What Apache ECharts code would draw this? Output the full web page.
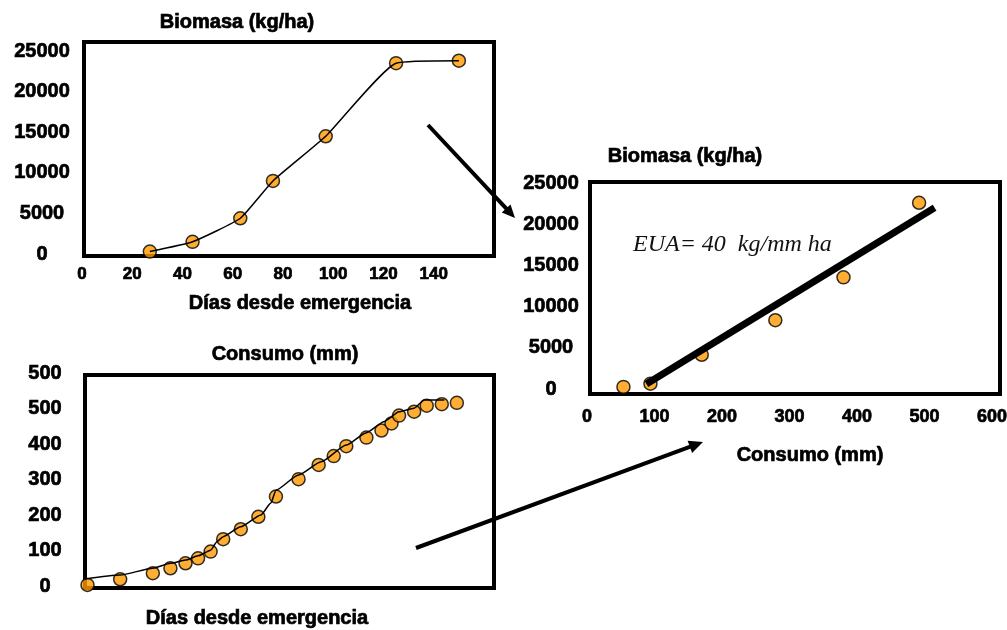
<!DOCTYPE html>
<html>
<head>
<meta charset="utf-8">
<title>Biomasa y consumo de agua</title>
<script src="https://cdn.jsdelivr.net/npm/echarts@6/dist/echarts.min.js"></script>
<style>
  html, body { margin: 0; padding: 0; background: #ffffff; }
  #chart { width: 1007px; height: 630px; }
</style>
</head>
<body>
<div id="chart"></div>
<script>
// Biomasa acumulada vs días desde emergencia
const biomasaDias = [27, 44, 63, 76, 97, 125, 150];
const biomasaKgHa = [300, 1500, 4400, 9000, 14500, 23500, 23800];

// Consumo de agua acumulado vs días desde emergencia (observado)
const consumoDias = [1, 14, 27, 34, 40, 45, 50, 55, 62, 69, 76, 85, 93, 99, 104, 112, 118, 122, 125, 131, 136, 142, 148];
const consumoMm = [3, 19, 36, 50, 64, 78, 97, 132, 160, 195, 252, 301, 341, 366, 394, 418, 438, 458, 480, 491, 508, 512, 516];

// Curva ajustada del consumo
const ajusteDias = [0, 14, 27, 34, 40, 45, 50, 52.5, 55, 62, 70, 74, 76, 85, 94, 104, 112, 119, 125, 131, 135, 143];
const ajusteMm = [20, 31, 50, 64, 73, 85, 101, 125, 139, 167, 200, 234, 270, 313, 350, 397, 432, 463, 491, 501, 524, 524];

// Biomasa vs consumo y recta de eficiencia en el uso del agua
const euaConsumo = [54, 94, 170, 279, 380, 492];
const euaBiomasa = [250, 650, 4150, 8350, 13550, 22600];
const rectaConsumo = [88, 515];
const rectaBiomasa = [600, 22000];

// Etiquetas de los ejes
const diasTicks = ['0', '20', '40', '60', '80', '100', '120', '140'];
const biomasaTicks = ['0', '5000', '10000', '15000', '20000', '25000'];
const consumoTicks = ['0', '100', '200', '300', '400', '500', '500'];
const euaTicks = ['0', '100', '200', '300', '400', '500', '600'];

const pares = (xs, ys) => xs.map((x, i) => [x, ys[i]]);

const FONT = 'Liberation Sans, Arial, sans-serif';
const ORANGE = '#FF9900';

const tickLabel = (size, margin, extra) => Object.assign({
  fontSize: size, fontWeight: 'bold', fontFamily: FONT, color: '#000', margin: margin,
  textBorderColor: '#000', textBorderWidth: 0.7
}, extra || {});

const hiddenAxis = (gi) => ({ gridIndex: gi, type: 'value', show: false, min: 0, max: 1 });

const frameGrid = (left, top, width, height) => ({
  left, top, width, height, show: true, borderColor: '#000', borderWidth: 4,
  backgroundColor: 'transparent', containLabel: false, outerBoundsMode: 'none'
});
const dataGrid = (left, top, width, height) => ({
  left, top, width, height, show: false, containLabel: false, outerBoundsMode: 'none'
});

const texto = (t, x, y, size, extra) => ({
  type: 'text', x: x, y: y, z: 10,
  style: Object.assign({
    text: t, fill: '#000', fontSize: size, fontWeight: 'bold', fontFamily: FONT,
    stroke: '#000', lineWidth: 0.7,
    align: 'center', verticalAlign: 'middle', textAlign: 'center', textVerticalAlign: 'middle'
  }, extra || {})
});

function flecha(x1, y1, x2, y2, len, half, w) {
  const dx = x2 - x1, dy = y2 - y1, d = Math.hypot(dx, dy);
  const ux = dx / d, uy = dy / d;
  const bx = x2 - ux * len, by = y2 - uy * len;
  return [
    { type: 'line', z: 20, shape: { x1: x1, y1: y1, x2: bx + ux * 2, y2: by + uy * 2 },
      style: { stroke: '#000', lineWidth: w, lineCap: 'butt' } },
    { type: 'polygon', z: 20,
      shape: { points: [[x2, y2], [bx - uy * half, by + ux * half], [bx + uy * half, by - ux * half]] },
      style: { fill: '#000' } }
  ];
}

const marker = { color: ORANGE, borderColor: '#000', borderWidth: 1.5 };

const option = {
  animation: false,
  backgroundColor: '#ffffff',
  grid: [
    frameGrid(84, 42, 410, 214),
    dataGrid(82, 51, 402, 203),
    frameGrid(85, 375, 409, 213),
    dataGrid(85, 373, 402, 213),
    frameGrid(590, 182, 410, 212),
    dataGrid(587, 183, 405, 206)
  ],
  xAxis: [
    hiddenAxis(0),
    {
      gridIndex: 1, type: 'value', min: 0, max: 160, interval: 20,
      axisLine: { show: false }, axisTick: { show: false }, splitLine: { show: false },
      axisLabel: tickLabel(17, 12, {
        formatter: (v) => diasTicks[Math.round(v / 20)] || ''
      })
    },
    hiddenAxis(2),
    { gridIndex: 3, type: 'value', min: 0, max: 160, show: false },
    hiddenAxis(4),
    {
      gridIndex: 5, type: 'value', min: 0, max: 600, interval: 100,
      axisLine: { show: false }, axisTick: { show: false }, splitLine: { show: false },
      axisLabel: tickLabel(18, 19, {
        formatter: (v) => euaTicks[Math.round(v / 100)] || ''
      })
    }
  ],
  yAxis: [
    hiddenAxis(0),
    {
      gridIndex: 1, type: 'value', min: 0, max: 25000, interval: 5000,
      axisLine: { show: false }, axisTick: { show: false }, splitLine: { show: false },
      axisLabel: tickLabel(20, 40, {
        align: 'center',
        formatter: (v) => biomasaTicks[Math.round(v / 5000)] || ''
      })
    },
    hiddenAxis(2),
    {
      gridIndex: 3, type: 'value', min: 0, max: 600, interval: 100,
      axisLine: { show: false }, axisTick: { show: false }, splitLine: { show: false },
      axisLabel: tickLabel(20, 40, {
        align: 'center',
        formatter: (v) => consumoTicks[Math.round(v / 100)] || ''
      })
    },
    hiddenAxis(4),
    {
      gridIndex: 5, type: 'value', min: 0, max: 25000, interval: 5000,
      axisLine: { show: false }, axisTick: { show: false }, splitLine: { show: false },
      axisLabel: tickLabel(20, 36, {
        align: 'center',
        formatter: (v) => biomasaTicks[Math.round(v / 5000)] || ''
      })
    }
  ],
  series: [
    {
      type: 'scatter', xAxisIndex: 1, yAxisIndex: 1, z: 2,
      data: pares(biomasaDias, biomasaKgHa),
      symbol: 'circle', symbolSize: 13, itemStyle: marker
    },
    {
      type: 'line', xAxisIndex: 1, yAxisIndex: 1, z: 3,
      data: pares(biomasaDias, biomasaKgHa),
      showSymbol: false, symbol: 'none', smooth: 0.15, clip: false,
      lineStyle: { color: '#000', width: 1.5 }
    },
    {
      type: 'scatter', xAxisIndex: 3, yAxisIndex: 3, z: 2,
      data: pares(consumoDias, consumoMm),
      symbol: 'circle', symbolSize: 13, itemStyle: marker, clip: false
    },
    {
      type: 'line', xAxisIndex: 3, yAxisIndex: 3, z: 3,
      data: pares(ajusteDias, ajusteMm),
      showSymbol: false, symbol: 'none', smooth: 0.2, smoothMonotone: 'x', clip: false,
      lineStyle: { color: '#000', width: 1.5 }
    },
    {
      type: 'scatter', xAxisIndex: 5, yAxisIndex: 5, z: 2,
      data: pares(euaConsumo, euaBiomasa),
      symbol: 'circle', symbolSize: 13, itemStyle: marker
    },
    {
      type: 'line', xAxisIndex: 5, yAxisIndex: 5, z: 3,
      data: pares(rectaConsumo, rectaBiomasa),
      showSymbol: false, symbol: 'none',
      lineStyle: { color: '#000', width: 7, cap: 'butt' }
    }
  ],
  graphic: [
    texto('Biomasa (kg/ha)', 237, 22, 20),
    texto('Días desde emergencia', 300, 303, 20),
    texto('Consumo (mm)', 285, 354, 20),
    texto('Días desde emergencia', 257, 618, 20),
    texto('Biomasa (kg/ha)', 685, 156, 20),
    texto('Consumo (mm)', 810, 455, 20),
    texto('EUA= 40  kg/mm ha', 633, 245, 24, {
      fontFamily: 'Liberation Serif, Times New Roman, serif', fontStyle: 'italic',
      fontWeight: 'normal', fill: '#111', stroke: null, lineWidth: 0,
      align: 'left', textAlign: 'left'
    })
  ].concat(
    flecha(428, 125, 515, 218, 13, 6, 4),
    flecha(416, 548, 703, 442, 14, 6.5, 4)
  )
};

const chart = echarts.init(document.getElementById('chart'), null, { renderer: 'canvas' });
chart.setOption(option);
</script>
</body>
</html>
